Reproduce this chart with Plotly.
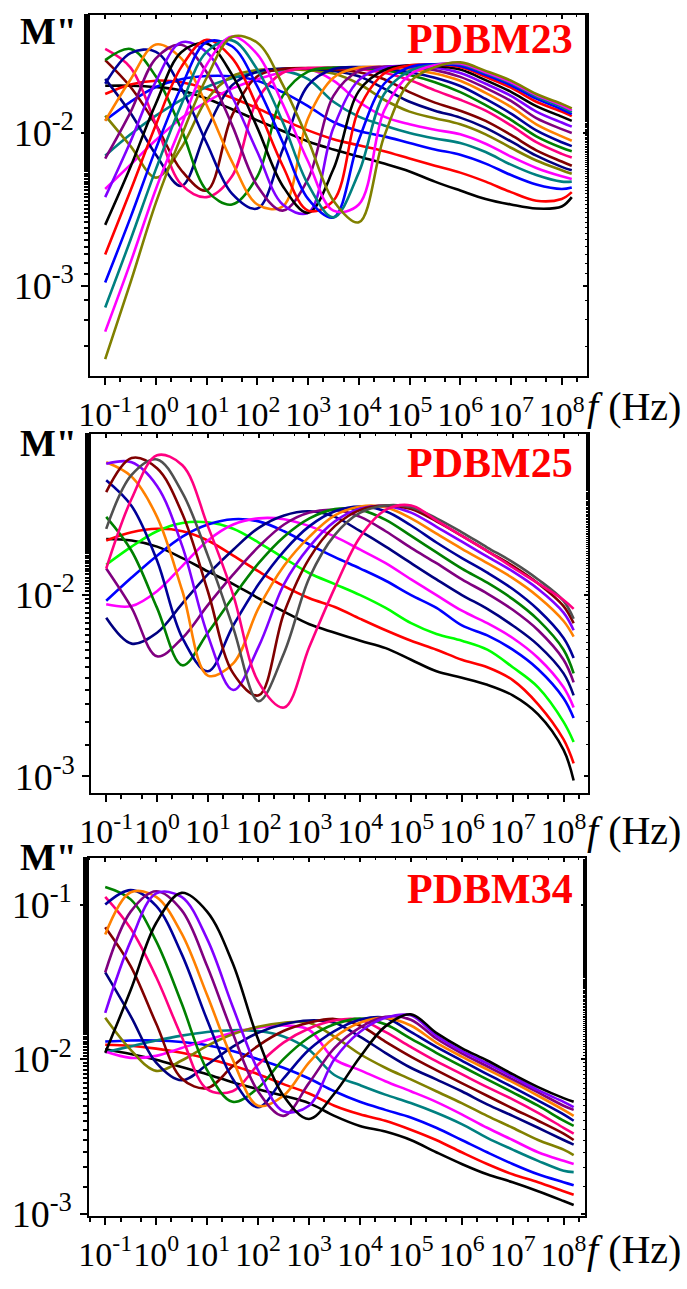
import plotly.graph_objects as go

# Frequency grid shared by all measurements (Hz)
FREQ_HZ = [1e-1, 3.16e-1, 1e0, 3.16e0, 1e1, 3.16e1, 1e2, 3.16e2, 1e3, 3.16e3,
           1e4, 3.16e4, 1e5, 3.16e5, 1e6, 3.16e6, 1e7, 3.16e7, 1e8, 1.58e8]

X_TICKS = [1e-1, 1e0, 1e1, 1e2, 1e3, 1e4, 1e5, 1e6, 1e7, 1e8]
X_TICK_TEXT = ["10<sup>-1</sup>", "10<sup>0</sup>", "10<sup>1</sup>", "10<sup>2</sup>",
               "10<sup>3</sup>", "10<sup>4</sup>", "10<sup>5</sup>", "10<sup>6</sup>",
               "10<sup>7</sup>", "10<sup>8</sup>"]

# ---------------- PDBM23 : M'' vs f ----------------
m23_01 = [0.0204, 0.0204, 0.0200, 0.0190, 0.0168, 0.0143, 0.0121, 0.0103, 0.0088, 0.0078, 0.0070, 0.0063, 0.0056, 0.0048, 0.0042, 0.0037, 0.0034, 0.0032, 0.0033, 0.0038]
m23_02 = [0.0180, 0.0208, 0.0220, 0.0215, 0.0195, 0.0170, 0.0145, 0.0122, 0.0104, 0.0091, 0.0083, 0.0076, 0.0068, 0.0061, 0.0055, 0.0048, 0.0041, 0.0036, 0.0037, 0.0041]
m23_03 = [0.0121, 0.0160, 0.0200, 0.0225, 0.0236, 0.0235, 0.0220, 0.0185, 0.0150, 0.0118, 0.0103, 0.0095, 0.0086, 0.0078, 0.0072, 0.0063, 0.0053, 0.0046, 0.0043, 0.0044]
m23_04 = [0.0071, 0.0098, 0.0130, 0.0165, 0.0200, 0.0228, 0.0250, 0.0255, 0.0225, 0.0160, 0.0128, 0.0112, 0.0100, 0.0092, 0.0086, 0.0075, 0.0062, 0.0053, 0.0048, 0.0048]
m23_05 = [0.0043, 0.0062, 0.0090, 0.0125, 0.0160, 0.0195, 0.0225, 0.0250, 0.0262, 0.0220, 0.0160, 0.0128, 0.0114, 0.0105, 0.0098, 0.0085, 0.0070, 0.0059, 0.0052, 0.0050]
m23_06 = [0.0130, 0.0082, 0.0051, 0.0080, 0.0165, 0.0235, 0.0258, 0.0262, 0.0258, 0.0245, 0.0210, 0.0165, 0.0138, 0.0125, 0.0114, 0.0098, 0.0080, 0.0066, 0.0057, 0.0054]
m23_07 = [0.0226, 0.0135, 0.0072, 0.0045, 0.0105, 0.0205, 0.0252, 0.0264, 0.0264, 0.0255, 0.0235, 0.0195, 0.0160, 0.0140, 0.0126, 0.0108, 0.0088, 0.0071, 0.0060, 0.0057]
m23_08 = [0.0300, 0.0200, 0.0113, 0.0057, 0.0042, 0.0130, 0.0235, 0.0262, 0.0266, 0.0262, 0.0250, 0.0225, 0.0185, 0.0158, 0.0140, 0.0120, 0.0097, 0.0077, 0.0065, 0.0061]
m23_09 = [0.0355, 0.0268, 0.0114, 0.0046, 0.0038, 0.0052, 0.0165, 0.0248, 0.0266, 0.0268, 0.0262, 0.0248, 0.0222, 0.0190, 0.0165, 0.0140, 0.0112, 0.0087, 0.0073, 0.0069]
m23_10 = [0.0300, 0.0355, 0.0234, 0.0106, 0.0042, 0.0034, 0.0052, 0.0175, 0.0252, 0.0268, 0.0268, 0.0258, 0.0240, 0.0215, 0.0185, 0.0152, 0.0122, 0.0095, 0.0080, 0.0076]
m23_11 = [0.0210, 0.0333, 0.0340, 0.0196, 0.0086, 0.0040, 0.0032, 0.0078, 0.0205, 0.0262, 0.0270, 0.0265, 0.0250, 0.0230, 0.0203, 0.0167, 0.0134, 0.0104, 0.0087, 0.0082]
m23_12 = [0.0120, 0.0224, 0.0380, 0.0308, 0.0152, 0.0065, 0.0034, 0.0033, 0.0125, 0.0230, 0.0268, 0.0270, 0.0262, 0.0245, 0.0220, 0.0183, 0.0148, 0.0114, 0.0095, 0.0089]
m23_13 = [0.0068, 0.0137, 0.0308, 0.0378, 0.0250, 0.0113, 0.0045, 0.0031, 0.0050, 0.0175, 0.0255, 0.0272, 0.0270, 0.0258, 0.0233, 0.0197, 0.0162, 0.0125, 0.0106, 0.0100]
m23_14 = [0.0038, 0.0088, 0.0218, 0.0392, 0.0338, 0.0174, 0.0075, 0.0034, 0.0030, 0.0108, 0.0222, 0.0268, 0.0275, 0.0268, 0.0247, 0.0210, 0.0175, 0.0138, 0.0117, 0.0110]
m23_15 = [0.0025, 0.0060, 0.0156, 0.0338, 0.0385, 0.0241, 0.0108, 0.0045, 0.0030, 0.0058, 0.0188, 0.0258, 0.0277, 0.0275, 0.0260, 0.0222, 0.0186, 0.0150, 0.0128, 0.0120]
m23_16 = [0.0016, 0.0042, 0.0113, 0.0270, 0.0408, 0.0310, 0.0148, 0.0061, 0.0031, 0.0036, 0.0143, 0.0245, 0.0277, 0.0280, 0.0270, 0.0233, 0.0198, 0.0160, 0.0138, 0.0129]
m23_17 = [0.00105, 0.0028, 0.0079, 0.0200, 0.0394, 0.0370, 0.0201, 0.0087, 0.0037, 0.0028, 0.0090, 0.0210, 0.0270, 0.0282, 0.0275, 0.0240, 0.0205, 0.0168, 0.0143, 0.0133]
m23_18 = [0.00072, 0.0020, 0.0058, 0.0153, 0.0340, 0.0404, 0.0260, 0.0118, 0.0046, 0.0028, 0.0055, 0.0180, 0.0255, 0.0280, 0.0282, 0.0247, 0.0212, 0.0173, 0.0148, 0.0137]
m23_19 = [0.00050, 0.00142, 0.0043, 0.0112, 0.0280, 0.0428, 0.0327, 0.0155, 0.0065, 0.0031, 0.0034, 0.0140, 0.0240, 0.0278, 0.0285, 0.0250, 0.0215, 0.0177, 0.0152, 0.0141]
m23_20 = [0.00033, 0.00105, 0.0035, 0.0095, 0.0230, 0.0425, 0.0390, 0.0207, 0.0090, 0.0036, 0.0026, 0.0095, 0.0215, 0.0270, 0.0290, 0.0255, 0.0220, 0.0180, 0.0155, 0.0145]

M23_SERIES = [m23_01, m23_02, m23_03, m23_04, m23_05, m23_06, m23_07, m23_08, m23_09, m23_10,
              m23_11, m23_12, m23_13, m23_14, m23_15, m23_16, m23_17, m23_18, m23_19, m23_20]
M23_COLORS = ["#000000", "#FF0000", "#0000FF", "#008080", "#FF00FF", "#808000", "#000080",
              "#800000", "#FF0080", "#008000", "#000099", "#FF8000", "#800080", "#8000FF",
              "#000000", "#FF0000", "#0000FF", "#008080", "#FF00FF", "#808000"]

# ---------------- PDBM25 : M'' vs f ----------------
m25_01 = [0.0204, 0.0200, 0.0185, 0.0160, 0.0135, 0.0115, 0.0096, 0.0081, 0.0069, 0.0062, 0.0056, 0.0051, 0.0044, 0.0038, 0.0035, 0.0032, 0.0028, 0.0022, 0.0014, 0.00095]
m25_02 = [0.0200, 0.0222, 0.0232, 0.0225, 0.0200, 0.0165, 0.0135, 0.0112, 0.0096, 0.0086, 0.0074, 0.0064, 0.0056, 0.0050, 0.0044, 0.0040, 0.0034, 0.0025, 0.0016, 0.00118]
m25_03 = [0.0147, 0.0185, 0.0225, 0.0250, 0.0252, 0.0232, 0.0195, 0.0160, 0.0132, 0.0115, 0.0100, 0.0085, 0.0070, 0.0061, 0.0056, 0.0050, 0.0040, 0.0031, 0.0020, 0.00155]
m25_04 = [0.0093, 0.0125, 0.0165, 0.0210, 0.0245, 0.0262, 0.0255, 0.0225, 0.0190, 0.0162, 0.0140, 0.0120, 0.0100, 0.0085, 0.0068, 0.0060, 0.0050, 0.0039, 0.0027, 0.0021]
m25_05 = [0.0089, 0.0087, 0.0105, 0.0145, 0.0200, 0.0245, 0.0265, 0.0262, 0.0240, 0.0210, 0.0178, 0.0150, 0.0122, 0.0100, 0.0082, 0.0070, 0.0058, 0.0045, 0.0031, 0.0024]
m25_06 = [0.0075, 0.0054, 0.0062, 0.0090, 0.0130, 0.0178, 0.0235, 0.0275, 0.0290, 0.0270, 0.0225, 0.0185, 0.0150, 0.0122, 0.0100, 0.0084, 0.0068, 0.0053, 0.0037, 0.0028]
m25_07 = [0.0140, 0.0085, 0.0046, 0.0058, 0.0088, 0.0130, 0.0185, 0.0245, 0.0285, 0.0295, 0.0270, 0.0225, 0.0182, 0.0150, 0.0122, 0.0102, 0.0083, 0.0064, 0.0044, 0.0033]
m25_08 = [0.0270, 0.0175, 0.0085, 0.0041, 0.0062, 0.0098, 0.0150, 0.0210, 0.0265, 0.0298, 0.0295, 0.0260, 0.0212, 0.0172, 0.0140, 0.0117, 0.0095, 0.0073, 0.0050, 0.0037]
m25_09 = [0.0430, 0.0310, 0.0155, 0.0058, 0.0038, 0.0068, 0.0115, 0.0175, 0.0240, 0.0290, 0.0308, 0.0290, 0.0242, 0.0195, 0.0160, 0.0133, 0.0108, 0.0083, 0.0058, 0.0045]
m25_10 = [0.0540, 0.0450, 0.0270, 0.0105, 0.0036, 0.0042, 0.0085, 0.0145, 0.0210, 0.0275, 0.0308, 0.0305, 0.0265, 0.0218, 0.0180, 0.0150, 0.0124, 0.0098, 0.0072, 0.0059]
m25_11 = [0.0530, 0.0540, 0.0400, 0.0185, 0.0060, 0.0030, 0.0052, 0.0115, 0.0185, 0.0255, 0.0300, 0.0310, 0.0285, 0.0238, 0.0197, 0.0163, 0.0135, 0.0108, 0.0080, 0.0064]
m25_12 = [0.0370, 0.0570, 0.0500, 0.0280, 0.0105, 0.0037, 0.0028, 0.0080, 0.0160, 0.0240, 0.0295, 0.0312, 0.0298, 0.0255, 0.0212, 0.0175, 0.0145, 0.0116, 0.0087, 0.0070]
m25_13 = [0.0232, 0.0460, 0.0560, 0.0366, 0.0165, 0.0066, 0.0026, 0.0048, 0.0125, 0.0215, 0.0285, 0.0312, 0.0305, 0.0265, 0.0222, 0.0183, 0.0152, 0.0122, 0.0093, 0.0074]
m25_14 = [0.0140, 0.0340, 0.0590, 0.0520, 0.0240, 0.0100, 0.0033, 0.0024, 0.0052, 0.0110, 0.0210, 0.0295, 0.0312, 0.0258, 0.0212, 0.0175, 0.0142, 0.0116, 0.0094, 0.0084]

M25_SERIES = [m25_01, m25_02, m25_03, m25_04, m25_05, m25_06, m25_07,
              m25_08, m25_09, m25_10, m25_11, m25_12, m25_13, m25_14]
M25_COLORS = ["#000000", "#FF0000", "#00FF00", "#0000FF", "#FF00FF", "#000080", "#800080",
              "#008000", "#000099", "#FF8000", "#8000FF", "#800000", "#505050", "#FF0080"]

# ---------------- PDBM34 : M'' vs f ----------------
m34_01 = [0.0116, 0.0108, 0.0099, 0.0089, 0.0080, 0.0071, 0.0064, 0.0058, 0.0052, 0.0043, 0.0037, 0.0034, 0.0030, 0.0025, 0.0021, 0.0018, 0.0016, 0.0014, 0.00121, 0.00114]
m34_02 = [0.0124, 0.0122, 0.0117, 0.0110, 0.0101, 0.0091, 0.0080, 0.0069, 0.0060, 0.0050, 0.0044, 0.0040, 0.0035, 0.0030, 0.0025, 0.0021, 0.0018, 0.0016, 0.0014, 0.00133]
m34_03 = [0.0130, 0.0132, 0.0132, 0.0129, 0.0123, 0.0113, 0.0100, 0.0088, 0.0075, 0.0062, 0.0053, 0.0047, 0.0042, 0.0036, 0.0030, 0.0025, 0.0021, 0.0018, 0.0016, 0.00153]
m34_04 = [0.0111, 0.0121, 0.0132, 0.0142, 0.0150, 0.0154, 0.0152, 0.0140, 0.0115, 0.0079, 0.0068, 0.0059, 0.0052, 0.0045, 0.0038, 0.0031, 0.0026, 0.0022, 0.0019, 0.00186]
m34_05 = [0.0112, 0.0102, 0.0105, 0.0118, 0.0133, 0.0148, 0.0160, 0.0165, 0.0155, 0.0100, 0.0085, 0.0072, 0.0062, 0.0053, 0.0044, 0.0036, 0.0030, 0.0025, 0.0022, 0.0021]
m34_06 = [0.0185, 0.0115, 0.0084, 0.0098, 0.0122, 0.0145, 0.0162, 0.0172, 0.0172, 0.0140, 0.0108, 0.0088, 0.0074, 0.0062, 0.0052, 0.0043, 0.0036, 0.0030, 0.0026, 0.0024]
m34_07 = [0.0364, 0.0190, 0.0095, 0.0073, 0.0092, 0.0120, 0.0148, 0.0168, 0.0178, 0.0172, 0.0140, 0.0110, 0.0088, 0.0074, 0.0062, 0.0051, 0.0043, 0.0036, 0.0030, 0.0028]
m34_08 = [0.0714, 0.0400, 0.0170, 0.0075, 0.0065, 0.0090, 0.0122, 0.0152, 0.0172, 0.0182, 0.0165, 0.0130, 0.0104, 0.0085, 0.0070, 0.0058, 0.0048, 0.0040, 0.0033, 0.0030]
m34_09 = [0.1120, 0.0700, 0.0340, 0.0140, 0.0064, 0.0062, 0.0092, 0.0128, 0.0158, 0.0178, 0.0180, 0.0150, 0.0120, 0.0097, 0.0080, 0.0066, 0.0055, 0.0045, 0.0036, 0.0033]
m34_10 = [0.1300, 0.1080, 0.0580, 0.0230, 0.0085, 0.0053, 0.0065, 0.0100, 0.0138, 0.0168, 0.0183, 0.0168, 0.0136, 0.0110, 0.0090, 0.0074, 0.0061, 0.0050, 0.0040, 0.0037]
m34_11 = [0.1000, 0.1240, 0.0980, 0.0480, 0.0180, 0.0075, 0.0049, 0.0075, 0.0115, 0.0152, 0.0180, 0.0185, 0.0150, 0.0120, 0.0098, 0.0080, 0.0066, 0.0054, 0.0044, 0.0040]
m34_12 = [0.0640, 0.1200, 0.1120, 0.0650, 0.0260, 0.0100, 0.0050, 0.0058, 0.0095, 0.0138, 0.0172, 0.0185, 0.0165, 0.0128, 0.0104, 0.0086, 0.0071, 0.0058, 0.0047, 0.0043]
m34_13 = [0.0364, 0.0900, 0.1220, 0.0920, 0.0400, 0.0148, 0.0062, 0.0043, 0.0070, 0.0118, 0.0160, 0.0188, 0.0180, 0.0136, 0.0109, 0.0090, 0.0074, 0.0061, 0.0050, 0.0047]
m34_14 = [0.0199, 0.0580, 0.1180, 0.1120, 0.0600, 0.0220, 0.0085, 0.0046, 0.0050, 0.0100, 0.0150, 0.0185, 0.0192, 0.0142, 0.0113, 0.0094, 0.0077, 0.0063, 0.0053, 0.0049]
m34_15 = [0.0110, 0.0280, 0.0760, 0.1190, 0.0900, 0.0420, 0.0135, 0.0058, 0.0041, 0.0060, 0.0103, 0.0163, 0.0195, 0.0148, 0.0118, 0.0098, 0.0080, 0.0066, 0.0056, 0.0053]

M34_SERIES = [m34_01, m34_02, m34_03, m34_04, m34_05, m34_06, m34_07, m34_08,
              m34_09, m34_10, m34_11, m34_12, m34_13, m34_14, m34_15]
M34_COLORS = ["#000000", "#FF0000", "#0000FF", "#008080", "#FF00FF", "#808000", "#000080",
              "#800000", "#FF0080", "#008000", "#000099", "#FF8000", "#800080", "#8000FF",
              "#000000"]

W, H = 687, 1289
SERIF = "Liberation Serif, Times New Roman, serif"

# Panel geometry in pixels: (left, right, top, bottom), x range (log), y range (log)
PANELS = [
    dict(name="PDBM23", series=M23_SERIES, colors=M23_COLORS,
         box=(80, 586, 15, 382), xr=(-1.29, 8.497), yr=(-3.594, -1.226),
         yt=[1e-3, 1e-2], ytt=["10<sup>-3</sup>", "10<sup>-2</sup>"],
         m_y=31, lab_y=40, fhz_y=413),
    dict(name="PDBM25", series=M25_SERIES, colors=M25_COLORS,
         box=(81, 587, 440, 805), xr=(-1.29, 8.479), yr=(-3.092, -1.109),
         yt=[1e-3, 1e-2], ytt=["10<sup>-3</sup>", "10<sup>-2</sup>"],
         m_y=450, lab_y=470, fhz_y=843),
    dict(name="PDBM34", series=M34_SERIES, colors=M34_COLORS,
         box=(78, 584, 871, 1234), xr=(-1.328, 8.42), yr=(-3.013, -0.70),
         yt=[1e-3, 1e-2, 1e-1], ytt=["10<sup>-3</sup>", "10<sup>-2</sup>", "10<sup>-1</sup>"],
         m_y=870, lab_y=902, fhz_y=1268),
]

fig = go.Figure()
layout = {}
annotations = []
NP = len(PANELS)

for i, p in enumerate(PANELS):
    n = "" if i == 0 else str(i + 1)
    m = str(i + 1 + NP)          # overlay axes carrying the top / right ticks
    xa, ya = "x" + n, "y" + n
    left, right, top, bottom = p["box"]
    for vals, col in zip(p["series"], p["colors"]):
        fig.add_trace(go.Scatter(
            x=FREQ_HZ, y=vals, mode="lines", xaxis=xa, yaxis=ya,
            line=dict(color=col, width=2.6, shape="spline", smoothing=1.0),
            showlegend=False, hoverinfo="skip"))
    # empty trace so the overlay (top/right) axes get drawn
    fig.add_trace(go.Scatter(x=[None], y=[None], xaxis="x" + m, yaxis="y" + m,
                             mode="lines", showlegend=False, hoverinfo="skip"))

    base = dict(type="log", showgrid=False, zeroline=False, showline=True,
                linecolor="black", linewidth=2, mirror=True,
                ticks="outside", tickcolor="black", tickwidth=2, ticklen=7,
                minor=dict(ticks="outside", ticklen=4, tickwidth=1.5, tickcolor="black",
                           showgrid=False))
    layout["xaxis" + n] = dict(base, domain=[left / W, right / W], range=list(p["xr"]),
                               anchor=ya, tickmode="array", tickvals=X_TICKS,
                               ticktext=X_TICK_TEXT, tickangle=0,
                               tickfont=dict(family=SERIF, size=34, color="black"))
    layout["yaxis" + n] = dict(base, domain=[1 - bottom / H, 1 - top / H], range=list(p["yr"]),
                               anchor=xa, tickmode="array", tickvals=p["yt"],
                               ticktext=p["ytt"],
                               tickfont=dict(family=SERIF, size=38, color="black"))

    inner = dict(type="log", showgrid=False, zeroline=False, showline=False,
                 showticklabels=False, ticks="inside", tickcolor="black", tickwidth=1.5,
                 ticklen=4, minor=dict(ticks="inside", ticklen=2, tickwidth=1,
                                       tickcolor="black", showgrid=False))
    layout["xaxis" + m] = dict(inner, overlaying=xa, side="top", anchor=ya,
                               range=list(p["xr"]), tickmode="array", tickvals=X_TICKS)
    layout["yaxis" + m] = dict(inner, overlaying=ya, side="right", anchor=xa,
                               range=list(p["yr"]), tickmode="array", tickvals=p["yt"])

    annotations.append(dict(xref="paper", yref="paper", x=6 / W, y=1 - p["m_y"] / H,
                            xanchor="left", yanchor="middle", showarrow=False,
                            text="<b>M\"</b>", font=dict(family=SERIF, size=38, color="black")))
    annotations.append(dict(xref="paper", yref="paper", x=574 / W, y=1 - p["lab_y"] / H,
                            xanchor="right", yanchor="middle", showarrow=False,
                            text="<b>" + p["name"] + "</b>",
                            font=dict(family=SERIF, size=42, color="#FF0000")))
    annotations.append(dict(xref="paper", yref="paper", x=584 / W, y=1 - p["fhz_y"] / H,
                            xanchor="left", yanchor="middle", showarrow=False,
                            text="<i>f</i> (Hz)", font=dict(family=SERIF, size=40, color="black")))

fig.update_layout(width=W, height=H, margin=dict(l=0, r=0, t=0, b=0),
                  paper_bgcolor="white", plot_bgcolor="white",
                  annotations=annotations, **layout)

fig.write_html("out.html")
